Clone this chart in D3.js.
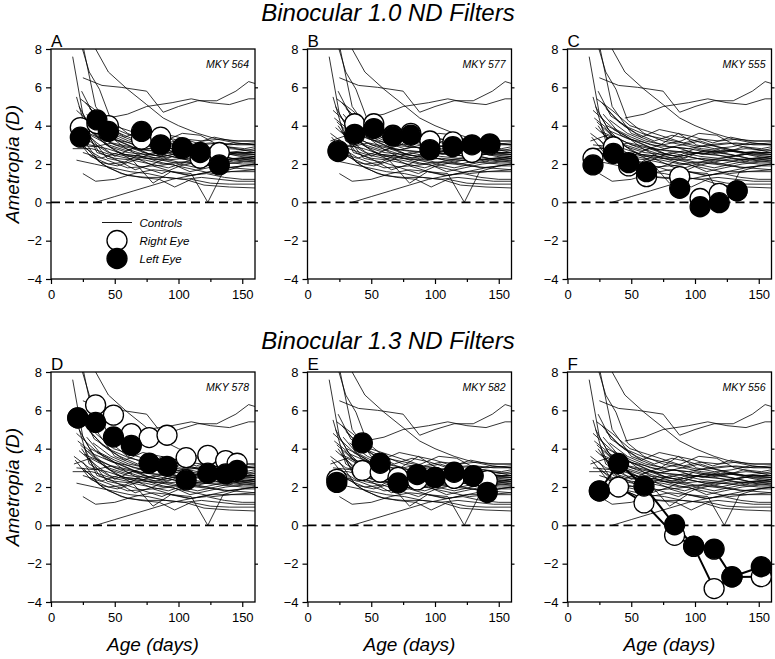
<!DOCTYPE html>
<html>
<head>
<meta charset="utf-8">
<script src="https://cdn.jsdelivr.net/npm/d3@7"></script>
<style>
  body { margin: 0; background: #fff; }
  svg { display: block; font-family: "Liberation Sans", Arial, sans-serif; }
</style>
</head>
<body>
<svg id="chart" width="775" height="659"></svg>
<script>
// ---------------- DATA ----------------
const titles = ["Binocular 1.0 ND Filters", "Binocular 1.3 ND Filters"];
const panelLetters = ["A", "B", "C", "D", "E", "F"];
const monkeys = ["MKY 564", "MKY 577", "MKY 555", "MKY 578", "MKY 582", "MKY 556"];
const xTicks = [0, 50, 100, 150];
const xMinorTicks = [25, 75, 125];
const yTicks = [-4, -2, 0, 2, 4, 6, 8];
const legendLabels = ["Controls", "Right Eye", "Left Eye"];

// treated monkeys: age (days), right-eye and left-eye ametropia (D)
const ages_A  = [23, 36, 45, 71, 86, 103, 117, 132];
const right_A = [3.9, 4.1, 4.0, 3.3, 3.4, 2.8, 2.3, 2.6];
const left_A  = [3.4, 4.3, 3.7, 3.7, 3.0, 2.85, 2.6, 1.95];

const ages_B  = [24, 37, 52, 67, 81, 96, 114, 129, 143];
const right_B = [2.7, 4.1, 4.1, 3.5, 3.6, 3.2, 3.15, 2.6, 3.0];
const left_B  = [2.65, 3.55, 3.85, 3.45, 3.5, 2.75, 2.9, 3.0, 3.05];

const ages_C  = [20, 36, 48, 62, 88, 104, 119, 133];
const right_C = [2.3, 2.9, 1.9, 1.34, 1.34, 0.2, 0.47, 0.6];
const left_C  = [1.95, 2.55, 2.07, 1.6, 0.73, -0.23, -0.02, 0.6];

const ages_D  = [21, 35, 49, 63, 77, 91, 106, 123, 137, 146];
const right_D = [5.6, 6.28, 5.75, 4.79, 4.58, 4.7, 3.53, 3.65, 3.38, 3.24];
const left_D  = [5.61, 5.37, 4.61, 4.17, 3.24, 3.08, 2.37, 2.72, 2.68, 2.86];

const ages_E  = [23, 43, 57, 71, 86, 100, 115, 130, 141];
const right_E = [2.4, 2.86, 2.77, 2.5, 2.37, 2.5, 2.45, 2.55, 2.33];
const left_E  = [2.24, 4.3, 3.24, 2.21, 2.65, 2.5, 2.77, 2.59, 1.72];

const ages_F  = [25, 40, 60, 84, 99, 115, 129, 152];
const right_F = [1.8, 2.0, 1.17, -0.52, -1.1, -3.3, -2.7, -2.68];
const left_F  = [1.79, 3.23, 2.05, 0.03, -1.08, -1.24, -2.68, -2.16];

// normal control monkeys: [age, ametropia] per animal
const controls = [
  [[17,7.6],[25,4.6],[35,3.5],[50,3.0],[65,2.8],[80,2.7],[95,2.6],[110,2.5],[125,2.4],[140,2.5],[160,2.4]],
  [[20,9.8],[35,5.0],[50,3.6],[65,3.2],[80,2.9],[95,2.8],[110,2.6],[125,2.7],[140,2.6],[160,2.5]],
  [[30,8.6],[45,6.8],[60,5.9],[75,5.1],[88,4.4],[100,4.0],[115,3.6],[130,3.3],[145,3.1],[160,3.0]],
  [[22,8.6],[30,6.8],[38,5.9],[47,4.3],[60,3.6],[75,3.2],[90,3.0],[105,2.8],[120,2.7],[140,2.6],[160,2.6]],
  [[25,6.5],[40,6.1],[55,6.0],[75,5.8],[88,4.7],[100,5.0],[115,5.3],[130,5.3],[145,5.8],[155,6.3],[160,6.2]],
  [[45,4.4],[60,4.6],[75,5.0],[95,5.2],[110,5.4],[125,5.2],[140,5.1],[155,5.4],[160,5.4]],
  [[25,1.5],[35,1.1],[50,1.2],[65,1.5],[80,1.7],[95,1.6],[110,1.4],[125,1.6],[140,1.6],[160,1.7]],
  [[35,0.0],[50,0.3],[65,0.6],[80,0.9],[95,1.2],[110,1.4],[125,1.6],[140,1.8],[160,2.0]],
  [[25,2.9],[40,2.3],[60,1.8],[80,1.9],[95,1.6],[110,1.5],[123,0.0],[135,1.6],[150,1.9],[160,2.0]],
  [[25,3.0],[40,2.0],[55,1.5],[70,1.3],[85,1.2],[97,0.8],[110,1.2],[125,1.0],[140,0.95],[160,0.95]],
  [[30,2.5],[45,1.8],[60,1.4],[75,1.3],[90,1.3],[105,1.2],[120,0.9],[140,0.8],[160,0.75]],
  [[20,5.5],[30,3.2],[45,2.6],[60,2.4],[75,2.3],[90,2.2],[105,2.3],[120,2.2],[135,2.1],[150,2.0],[160,2.0]],
  [[22,5.0],[32,3.8],[46,2.9],[60,2.6],[74,2.5],[88,2.4],[102,2.6],[116,2.5],[130,2.3],[145,2.2],[160,2.1]],
  [[20,4.8],[35,3.9],[50,3.4],[65,3.0],[80,2.9],[95,2.8],[110,3.0],[125,3.1],[140,3.0],[160,3.1]],
  [[23,4.2],[36,3.4],[50,2.7],[64,2.2],[78,2.0],[92,1.8],[106,2.1],[120,2.0],[134,2.2],[148,2.3],[160,2.3]],
  [[18,3.6],[30,3.0],[44,2.8],[58,2.5],[72,2.4],[86,2.3],[100,2.1],[114,2.0],[128,1.9],[142,1.8],[160,1.7]],
  [[25,3.3],[38,2.1],[52,1.9],[66,2.2],[80,2.6],[94,2.4],[108,2.2],[122,2.3],[136,2.5],[150,2.6],[160,2.6]],
  [[17,2.8],[32,2.8],[46,2.5],[60,2.3],[74,2.2],[88,2.0],[102,2.1],[116,2.2],[130,2.2],[145,2.3],[160,2.4]],
  [[27,5.2],[40,4.2],[54,3.6],[68,3.2],[82,3.5],[96,3.3],[110,3.0],[124,2.8],[138,2.6],[152,2.7],[160,2.8]],
  [[30,4.9],[44,4.0],[58,3.4],[72,3.8],[86,3.6],[100,3.4],[114,3.1],[128,3.4],[142,3.2],[160,3.2]],
  [[24,4.0],[38,2.6],[52,2.2],[66,1.7],[80,2.0],[94,2.4],[108,2.2],[122,2.0],[136,1.8],[150,1.9],[160,1.9]],
  [[22,3.9],[36,3.1],[50,2.4],[64,2.8],[78,2.5],[92,2.3],[106,2.7],[120,2.6],[134,2.4],[148,2.2],[160,2.3]],
  [[19,3.4],[31,2.4],[45,2.0],[59,2.1],[73,1.8],[87,1.5],[101,1.9],[115,2.1],[129,2.3],[143,2.1],[160,2.2]],
  [[28,4.6],[42,3.5],[56,3.1],[70,2.7],[84,2.9],[98,2.6],[112,2.5],[126,2.7],[140,2.8],[160,2.7]],
  [[21,4.4],[34,3.7],[48,3.3],[62,3.1],[76,2.8],[90,3.0],[104,3.2],[118,2.9],[132,2.7],[146,2.5],[160,2.5]],
  [[26,3.7],[40,3.3],[54,2.9],[68,2.6],[82,2.3],[96,2.5],[110,2.7],[124,2.6],[138,2.9],[152,2.8],[160,2.9]],
  [[33,4.3],[47,3.6],[61,3.2],[75,3.0],[89,3.2],[103,3.6],[117,3.5],[131,3.0],[145,2.8],[160,2.6]],
  [[20,3.0],[34,2.9],[48,3.1],[62,2.9],[76,2.7],[90,2.6],[104,2.4],[118,2.3],[132,2.4],[146,2.6],[160,2.5]],
  [[29,3.9],[43,3.0],[57,2.5],[71,2.4],[85,2.1],[99,1.9],[113,1.7],[127,1.5],[141,1.6],[160,1.6]],
  [[24,5.8],[34,4.5],[48,3.9],[62,3.5],[76,3.3],[90,3.1],[104,2.9],[118,3.0],[132,3.1],[146,3.0],[160,3.0]],
  [[30,3.5],[44,2.3],[58,2.1],[72,2.6],[86,2.4],[100,2.8],[114,2.6],[128,2.5],[142,2.3],[160,2.2]],
  [[23,5.4],[35,4.8],[49,4.0],[63,3.7],[77,3.4],[91,3.1],[105,3.3],[119,3.2],[133,3.3],[147,3.2],[160,3.2]],
  [[36,3.8],[50,3.3],[64,2.9],[78,2.5],[92,2.7],[106,2.5],[120,2.8],[134,2.6],[148,2.4],[160,2.3]],
  [[18,3.2],[31,3.5],[45,3.0],[59,2.7],[73,3.0],[87,3.6],[101,3.0],[115,2.8],[129,2.9],[143,3.1],[160,3.0]],
  [[25,2.6],[39,2.3],[53,2.6],[67,2.3],[81,1.9],[95,2.0],[109,1.6],[123,1.8],[137,2.0],[151,2.1],[160,2.1]],
  [[31,4.0],[45,3.5],[59,2.8],[73,2.3],[87,2.2],[101,2.0],[115,1.8],[129,2.0],[143,2.2],[160,2.4]],
  [[26,4.1],[36,2.6],[50,2.3],[64,2.2],[80,1.0],[94,1.6],[108,1.4],[122,1.5],[136,1.3],[150,1.2],[160,1.2]],
  [[20,2.2],[34,2.0],[48,1.8],[62,1.6],[76,1.5],[90,1.3],[104,1.2],[118,1.3],[132,1.2],[146,1.1],[160,1.1]]
];

const treated = [
  {ages: ages_A, right: right_A, left: left_A, connect: false},
  {ages: ages_B, right: right_B, left: left_B, connect: false},
  {ages: ages_C, right: right_C, left: left_C, connect: false},
  {ages: ages_D, right: right_D, left: left_D, connect: false},
  {ages: ages_E, right: right_E, left: left_E, connect: false},
  {ages: ages_F, right: right_F, left: left_F, connect: true}
];

// ---------------- LAYOUT ----------------
const svg = d3.select("#chart");
const panelW = 204;
const colX = [51, 307.5, 567.5];
const rowY = [[49, 279], [372, 602]];
const titleY = [21, 349];
const R = 10;

titles.forEach((t, i) => {
  svg.append("text").attr("x", 388).attr("y", titleY[i])
    .attr("text-anchor", "middle").attr("font-style", "italic")
    .attr("font-size", 24).text(t);
});

treated.forEach((p, idx) => {
  const row = Math.floor(idx / 3), col = idx % 3;
  const x0 = colX[col], x1 = colX[col] + panelW;
  const [yTop, yBot] = rowY[row];
  const x = d3.scaleLinear().domain([0, 160]).range([x0, x1]);
  const y = d3.scaleLinear().domain([-4, 8]).range([yBot, yTop]);
  const g = svg.append("g");

  const clipId = "clip" + idx;
  g.append("clipPath").attr("id", clipId).append("rect")
    .attr("x", x0).attr("y", yTop).attr("width", x1 - x0).attr("height", yBot - yTop);

  const line = d3.line().x(d => x(d[0])).y(d => y(d[1]));

  // controls
  g.append("g").attr("clip-path", `url(#${clipId})`)
    .selectAll("path").data(controls).join("path")
    .attr("d", line).attr("fill", "none").attr("stroke", "#000").attr("stroke-width", 0.8);

  // zero line
  g.append("line").attr("x1", x0).attr("x2", x1).attr("y1", y(0)).attr("y2", y(0))
    .attr("stroke", "#000").attr("stroke-width", 1.6).attr("stroke-dasharray", "9,5");

  // frame
  g.append("rect").attr("x", x0).attr("y", yTop).attr("width", x1 - x0).attr("height", yBot - yTop)
    .attr("fill", "none").attr("stroke", "#000").attr("stroke-width", 1.3);

  // axes
  const xAxis = d3.axisBottom(x).tickValues(xTicks).tickSize(5).tickPadding(6).tickFormat(d3.format("d"));
  const gx = g.append("g").attr("transform", `translate(0,${yBot})`).call(xAxis);
  const gxm = g.append("g").attr("transform", `translate(0,${yBot})`)
    .call(d3.axisBottom(x).tickValues(xMinorTicks).tickSize(3).tickFormat(""));
  const yAxis = d3.axisLeft(y).tickValues(yTicks).tickSize(5).tickPadding(4).tickFormat(d3.format("d"));
  const gy = g.append("g").attr("transform", `translate(${x0},0)`).call(yAxis);
  const gyr = g.append("g").attr("transform", `translate(${x1},0)`)
    .call(d3.axisRight(y).tickValues(yTicks.slice(1, -1)).tickSize(3).tickFormat(""));
  [gx, gxm, gy, gyr].forEach(a => {
    a.select(".domain").remove();
    a.selectAll(".tick line").attr("stroke", "#000").attr("stroke-width", 1.2);
    a.selectAll("text").attr("font-size", 13).attr("font-family", "Liberation Sans, Arial, sans-serif").attr("fill", "#000");
  });

  // panel letter
  g.append("text").attr("x", x0).attr("y", yTop - 2).attr("font-size", 17).text(panelLetters[idx]);
  // monkey id
  g.append("text").attr("x", x1 - 6).attr("y", yTop + 19).attr("text-anchor", "end")
    .attr("font-size", 10.5).attr("font-style", "italic").text(monkeys[idx]);

  const rPts = p.ages.map((a, i) => [a, p.right[i]]);
  const lPts = p.ages.map((a, i) => [a, p.left[i]]);
  if (p.connect) {
    g.append("path").attr("d", line(rPts)).attr("fill", "none").attr("stroke", "#000").attr("stroke-width", 2);
    g.append("path").attr("d", line(lPts)).attr("fill", "none").attr("stroke", "#000").attr("stroke-width", 2);
  }
  g.append("g").selectAll("circle").data(rPts).join("circle")
    .attr("cx", d => x(d[0])).attr("cy", d => y(d[1])).attr("r", R)
    .attr("fill", "#fff").attr("stroke", "#000").attr("stroke-width", 1.3);
  g.append("g").selectAll("circle").data(lPts).join("circle")
    .attr("cx", d => x(d[0])).attr("cy", d => y(d[1])).attr("r", R)
    .attr("fill", "#000").attr("stroke", "#000").attr("stroke-width", 1.3);

  // y label
  if (col === 0) {
    const cy = (yTop + yBot) / 2;
    const t = g.append("text").attr("transform", `translate(19,${cy}) rotate(-90)`)
      .attr("text-anchor", "middle").attr("font-size", 19).attr("font-style", "italic");
    t.text("Ametropia (D)");
  }
  // x label
  if (row === 1) {
    g.append("text").attr("x", (x0 + x1) / 2).attr("y", 651).attr("text-anchor", "middle")
      .attr("font-size", 19).attr("font-style", "italic").text("Age (days)");
  }

  // legend in panel A
  if (idx === 0) {
    const lg = g.append("g");
    lg.append("line").attr("x1", 102).attr("x2", 132).attr("y1", 222.5).attr("y2", 222.5)
      .attr("stroke", "#000").attr("stroke-width", 0.9);
    lg.append("circle").attr("cx", 117).attr("cy", 240.5).attr("r", R)
      .attr("fill", "#fff").attr("stroke", "#000").attr("stroke-width", 1.3);
    lg.append("circle").attr("cx", 117).attr("cy", 258.5).attr("r", R)
      .attr("fill", "#000").attr("stroke", "#000").attr("stroke-width", 1.3);
    const ly = [226.5, 245, 263];
    legendLabels.forEach((s, i) => {
      lg.append("text").attr("x", 139.5).attr("y", ly[i]).attr("font-size", 11.5)
        .attr("font-style", "italic").text(s);
    });
  }
});
</script>
</body>
</html>
